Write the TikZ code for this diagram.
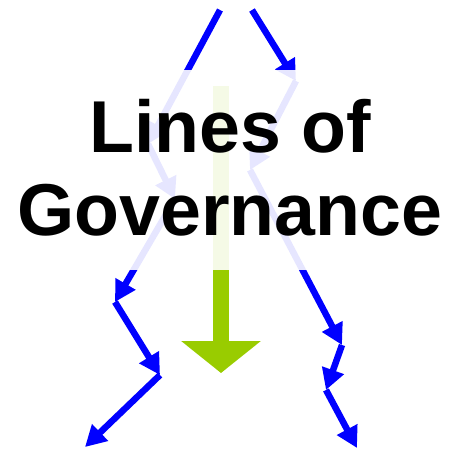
\documentclass[tikz,border=0pt]{standalone}
\usepackage{fontspec}
\setmainfont{Liberation Sans}
\usetikzlibrary{arrows.meta}

\definecolor{govblue}{RGB}{0,0,255}
\definecolor{govgreen}{RGB}{153,204,0}

\begin{document}
\begin{tikzpicture}[x=1pt,y=-1pt,
		govline/.style={draw=govblue,line width=6.5pt,-{Triangle[length=21pt,width=22pt]}},
		mainflow/.style={draw=govgreen,line width=16pt,-{Triangle[length=32pt,width=78pt]}},
		titletext/.style={font=\fontsize{73.5}{83}\selectfont\bfseries,inner sep=0pt,anchor=base}]
		\useasboundingbox (0,0) rectangle (449,451);
		% left line
		\coordinate (l0) at (220,10);
		\coordinate (l1) at (148,144);
		\coordinate (l2) at (175,199);
		\coordinate (l3) at (115,302);
		\coordinate (l4) at (160,375);
		\coordinate (l5) at (85,447);
		% right line
		\coordinate (r0) at (252,10);
		\coordinate (r1) at (296,81);
		\coordinate (r2) at (250,170);
		\coordinate (r3) at (342,345);
		\coordinate (r4) at (326,390);
		\coordinate (r5) at (357,448);
		% middle
		\coordinate (g0) at (221,86);
		\coordinate (g1) at (221,373);
		\foreach \a/\b in {l0/l1,l1/l2,l2/l3,l3/l4,l4/l5,r0/r1,r1/r2,r2/r3,r3/r4,r4/r5}
			\draw[govline] (\a) -- (\b);
		\draw[mainflow] (g0) -- (g1);
		\fill[white,opacity=0.9] (0,70) rectangle (449,270);
		\node[titletext] (title1) at (230,152) {Lines of};
		\node[titletext] (title2) at (230,235) {Governance};
	\end{tikzpicture}
\end{document}
